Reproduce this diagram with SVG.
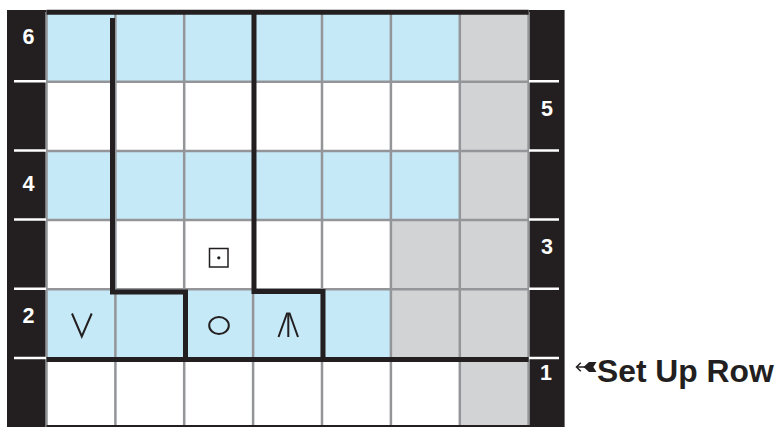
<svg xmlns="http://www.w3.org/2000/svg" width="775" height="427" viewBox="0 0 775 427">
<style>
.blue{fill:#c6e9f8}
.grey{fill:#d1d3d4}
.white{fill:#ffffff}
.grid{stroke:#939598;stroke-width:2.5;fill:none}
.thick{stroke:#231f20;stroke-width:5;fill:none;stroke-linecap:butt;stroke-linejoin:miter}
.tick{stroke:#ffffff;stroke-width:2.5}
.num{font-family:"Liberation Sans Narrow","Liberation Sans",Arial,sans-serif;font-weight:bold;font-size:21.5px;fill:#ffffff;text-anchor:middle}
.sym{stroke:#231f20;stroke-width:2;fill:none}
.label{font-family:"Liberation Sans",Arial,sans-serif;font-weight:bold;font-size:31.8px;fill:#231f20}
</style>
<rect x="0" y="0" width="775" height="427" fill="#ffffff"/>
<!-- side bars -->
<rect x="7" y="10" width="39.5" height="417" fill="#231f20"/>
<rect x="528.6" y="10" width="36" height="417" fill="#231f20"/>
<!-- cells -->
<g id="cells">
<rect class="blue" x="46.5" y="12.5" width="413.3" height="69.2"/>
<rect class="white" x="46.5" y="81.7" width="413.3" height="69.2"/>
<rect class="blue" x="46.5" y="150.9" width="413.3" height="69.2"/>
<rect class="white" x="46.5" y="220.1" width="344.5" height="69.2"/>
<rect class="blue" x="46.5" y="289.3" width="344.5" height="69.2"/>
<rect class="white" x="46.5" y="358.5" width="413.3" height="68.5"/>
<rect class="grey" x="459.8" y="12.5" width="68.8" height="414.5"/>
<rect class="grey" x="391" y="220.1" width="68.8" height="138.4"/>
</g>
<!-- grid -->
<g id="grid" class="grid">
<path d="M46.5,12 V427 M115.4,12 V427 M184.2,12 V427 M253.1,12 V427 M322,12 V427 M390.9,12 V427 M459.8,12 V427 M528.6,12 V427"/>
<path d="M46.5,81.7 H528.6 M46.5,150.9 H528.6 M46.5,220.1 H528.6 M46.5,289.3 H528.6"/>
</g>
<!-- ticks -->
<g id="ticks" class="tick">
<path d="M14,81.2 H46 M14,150.4 H46 M14,219.6 H46 M14,288.8 H46 M14,358 H46"/>
<path d="M529,81.2 H559 M529,150.4 H559 M529,219.6 H559 M529,288.8 H559 M529,358 H559"/>
</g>
<!-- row numbers -->
<g id="row-numbers">
<text class="num" x="28.5" y="43.5">6</text>
<text class="num" x="28.5" y="191">4</text>
<text class="num" x="28.5" y="323">2</text>
<text class="num" x="547" y="115.5">5</text>
<text class="num" x="547" y="253.5">3</text>
<text class="num" x="546" y="380">1</text>
</g>
<!-- thick outlines -->
<g id="outlines" class="thick">
<path d="M46.5,12.3 H528.6"/>
<path d="M46.5,359.5 H528.6"/>
<path d="M46.5,426 H564" stroke-width="2"/>
<path d="M112.5,18 V292 H185.5 V357"/>
<path d="M254,12 V291.5 H323 V357"/>
</g>
<!-- symbols -->
<g id="symbols" class="sym">
<polyline points="72,313.5 81.8,336.5 91.7,313.5"/>
<ellipse cx="219" cy="325.5" rx="9.8" ry="8.5"/>
<polyline points="278.5,337 287,313.5 289.6,313.5 298,337"/>
<line x1="288.3" y1="314" x2="288.3" y2="337"/>
<rect x="209.5" y="248.5" width="18.5" height="18.5" stroke-width="1.5"/>
<circle cx="218.8" cy="257.8" r="1.6" fill="#231f20" stroke="none"/>
</g>
<!-- set up row label -->
<g id="setup-label">
<path d="M577,367 H586" stroke="#231f20" stroke-width="1.5" fill="none"/>
<polyline points="580.8,362.8 576.5,367 580.8,371.2" stroke="#231f20" stroke-width="1.5" fill="none"/>
<polygon points="583.5,367 589,362 596.5,362 593.3,367 596.5,372 589,372" fill="#231f20"/>
<text class="label" x="597" y="381.5">Set Up Row</text>
</g>
</svg>
